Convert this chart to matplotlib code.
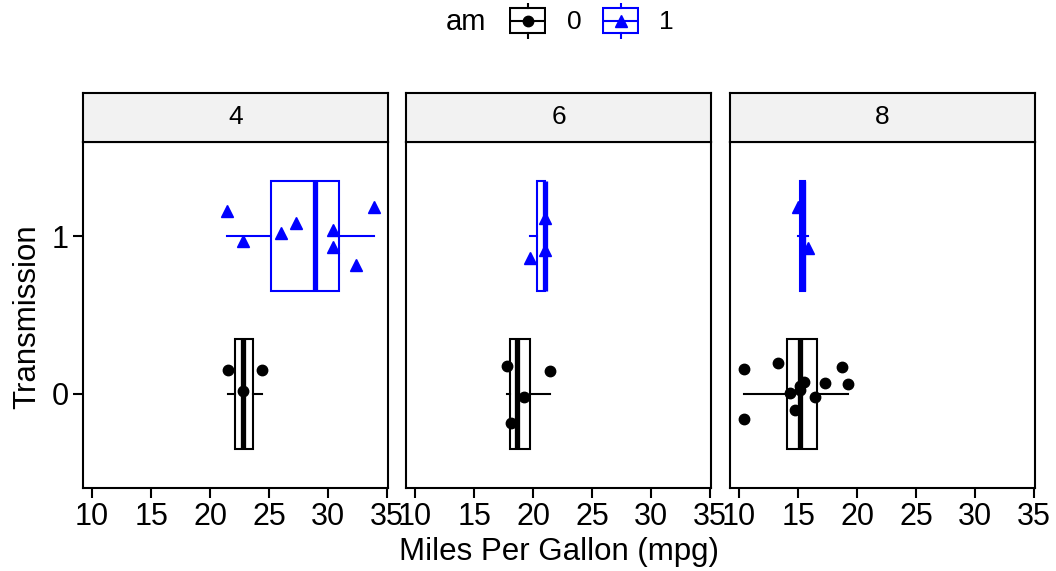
import numpy as np
import matplotlib
matplotlib.use("Agg")
import matplotlib.pyplot as plt
from matplotlib.patches import Rectangle

plt.rcParams['font.family'] = ['Liberation Sans', 'DejaVu Sans']

# mtcars: mpg by transmission (am), split by cylinders
cyl_levels = [4, 6, 8]
am_levels = [0, 1]
am_colors = {0: 'black', 1: '#0000FF'}
am_markers = {0: 'o', 1: '^'}

cyl = [4, 4, 4,
       4, 4, 4, 4, 4, 4, 4, 4,
       6, 6, 6, 6,
       6, 6, 6,
       8, 8, 8, 8, 8, 8, 8, 8, 8, 8, 8, 8,
       8, 8]
am = [0, 0, 0,
      1, 1, 1, 1, 1, 1, 1, 1,
      0, 0, 0, 0,
      1, 1, 1,
      0, 0, 0, 0, 0, 0, 0, 0, 0, 0, 0, 0,
      1, 1]
mpg = [21.5, 22.8, 24.4,
       21.4, 22.8, 26.0, 27.3, 30.4, 30.4, 32.4, 33.9,
       17.8, 18.1, 19.2, 21.4,
       19.7, 21.0, 21.0,
       10.4, 10.4, 13.3, 14.3, 14.7, 15.2, 15.2, 15.5, 16.4, 17.3, 18.7, 19.2,
       15.0, 15.8]
# vertical jitter
jitter = [0.151, 0.017, 0.151,
          0.161, -0.029, 0.024, 0.087, 0.041, -0.065, -0.182, 0.187,
          0.178, -0.188, -0.023, 0.146,
          -0.136, 0.117, -0.089,
          0.155, -0.161, 0.193, 0.006, -0.104, 0.024, 0.05, 0.076, -0.023, 0.066, 0.172, 0.06,
          0.189, -0.074]

W, H = 1056, 571
fig = plt.figure(figsize=(W / 100, H / 100), dpi=100)

def fx(px):
    return px / W

def fy(py):
    return 1 - py / H

panel_left = [83, 406, 730]
panel_w = 305
panel_top, panel_bot, strip_top = 142, 488, 93
lw = 1.5

mpg_a = np.array(mpg)
cyl_a = np.array(cyl)
am_a = np.array(am)
jit_a = np.array(jitter)

for i, c in enumerate(cyl_levels):
    ax = fig.add_axes([fx(panel_left[i]), fy(panel_bot), fx(panel_w), (panel_bot - panel_top) / H])
    for a in am_levels:
        col = am_colors[a]
        sel = (cyl_a == c) & (am_a == a)
        ax.boxplot(mpg_a[sel], positions=[a], widths=0.7, orientation='horizontal',
                   whis=1.5, showcaps=False, showfliers=False, patch_artist=True,
                   boxprops=dict(facecolor='white', edgecolor=col, linewidth=lw),
                   whiskerprops=dict(color=col, linewidth=lw),
                   medianprops=dict(color=col, linewidth=3.8, solid_capstyle='butt'),
                   zorder=2)
    for a in am_levels:
        sel = (cyl_a == c) & (am_a == a)
        ax.plot(mpg_a[sel], a + jit_a[sel], linestyle='none', marker=am_markers[a],
                color=am_colors[a], markersize=7.5 if a == 0 else 8.5, zorder=3)
    ax.set_xlim(9.225, 35.075)
    ax.set_ylim(-0.6, 1.6)
    ax.set_xticks([10, 15, 20, 25, 30, 35])
    ax.set_yticks([0, 1])
    for s in ax.spines.values():
        s.set_linewidth(lw)
    ax.tick_params(labelsize=22, length=7, width=lw, pad=3, colors='black')
    if i > 0:
        ax.tick_params(axis='y', left=False, labelleft=False)

    # facet strip
    sax = fig.add_axes([fx(panel_left[i]), fy(panel_top), fx(panel_w), (panel_top - strip_top) / H])
    sax.set_facecolor('#F2F2F2')
    sax.set_xticks([])
    sax.set_yticks([])
    for s in sax.spines.values():
        s.set_linewidth(lw)
    sax.text(0.5, 0.5, str(c), ha='center', va='center', fontsize=19, transform=sax.transAxes)

fig.text(fx(559), fy(552), 'Miles Per Gallon (mpg)', ha='center', va='center', fontsize=22.5)
fig.text(fx(27), fy(317), 'Transmission', ha='center', va='center', fontsize=22.5, rotation=90)

# legend at top
fig.text(fx(466), fy(22), 'am', ha='center', va='center', fontsize=21)
key_x = {0: 509, 1: 602}
lab_x = {0: 574, 1: 666}
for a in am_levels:
    col = am_colors[a]
    kax = fig.add_axes([fx(key_x[a]), fy(39), fx(37), 36 / H])
    kax.set_xlim(0, 1)
    kax.set_ylim(0, 1)
    kax.axis('off')
    kax.add_patch(Rectangle((0.03, 0.167), 0.94, 0.694, facecolor='white', edgecolor=col, linewidth=lw))
    kax.plot([0.5, 0.5], [0, 0.167], color=col, linewidth=lw)
    kax.plot([0.5, 0.5], [0.861, 1], color=col, linewidth=lw)
    kax.plot([0.03, 0.97], [0.5, 0.5], color=col, linewidth=lw)
    kax.plot([0.5], [0.5], marker=am_markers[a], color=col, markersize=7.5 if a == 0 else 8.5)
    fig.text(fx(lab_x[a]), fy(22), str(a), ha='center', va='center', fontsize=19)

fig.savefig('out.png', dpi=100)
